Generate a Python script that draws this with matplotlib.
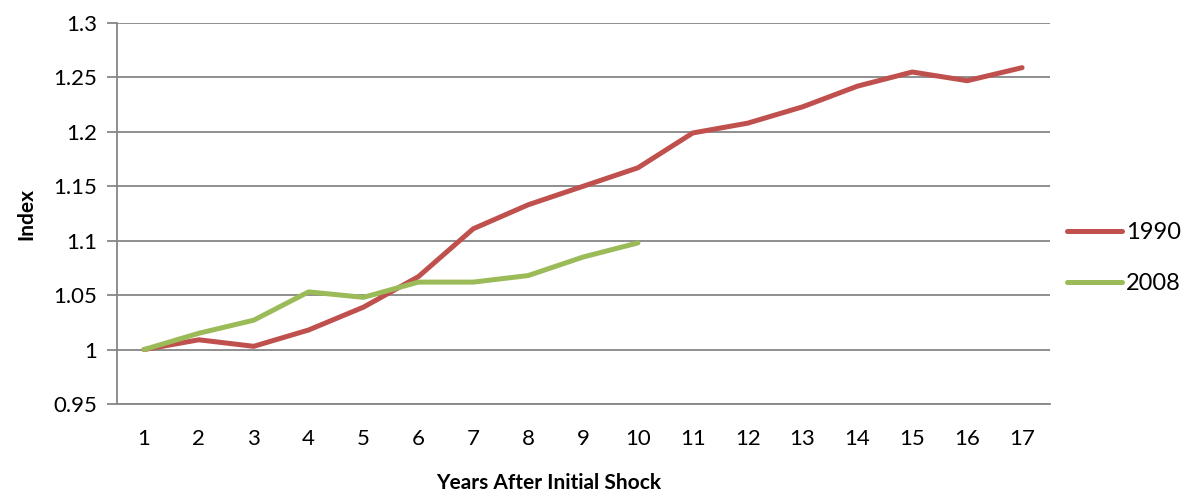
import matplotlib.pyplot as plt
from matplotlib.ticker import FixedLocator

# Index values by years after the initial shock
years = list(range(1, 18))
index_1990 = [1.000, 1.009, 1.003, 1.018, 1.039, 1.067, 1.111, 1.133, 1.150,
              1.167, 1.199, 1.208, 1.223, 1.242, 1.255, 1.247, 1.259]
years_2008 = list(range(1, 11))
index_2008 = [1.000, 1.015, 1.027, 1.053, 1.048, 1.062, 1.062, 1.068, 1.085, 1.098]
y_ticks = [0.95, 1.0, 1.05, 1.1, 1.15, 1.2, 1.25, 1.3]
y_tick_labels = ['0.95', '1', '1.05', '1.1', '1.15', '1.2', '1.25', '1.3']

plt.rcParams['font.family'] = ['Lato', 'DejaVu Sans']

fig = plt.figure(figsize=(11.89, 4.93), dpi=100)
ax = fig.add_axes([0.098, 0.1805, 0.7847, 0.7728])

grid_color = '#868686'
ax.plot(years, index_1990, color='#C0504D', lw=3.6, solid_capstyle='round',
        solid_joinstyle='round', label='1990', zorder=3)
ax.plot(years_2008, index_2008, color='#9BBB59', lw=3.6, solid_capstyle='round',
        solid_joinstyle='round', label='2008', zorder=3)

ax.set_xlim(0.5, 17.5)
ax.set_ylim(0.95, 1.3)
ax.set_xticks(years)
ax.yaxis.set_major_locator(FixedLocator(y_ticks))
ax.set_yticklabels(y_tick_labels)
ax.grid(axis='y', color=grid_color, lw=1.3)
ax.set_axisbelow(True)

for side in ['top', 'right']:
    ax.spines[side].set_visible(False)
for side in ['left', 'bottom']:
    ax.spines[side].set_color(grid_color)
    ax.spines[side].set_linewidth(1.3)

ax.tick_params(axis='y', length=7, width=1.3, color=grid_color, labelsize=16, pad=7)
ax.tick_params(axis='x', length=0, labelsize=16, pad=18)

ax.set_ylabel('Index', fontsize=15, fontweight='bold', labelpad=12)
fig.text(549 / 1189, 1 - 483 / 493, 'Years After Initial Shock', fontsize=15,
         fontweight='bold', ha='center', va='center')

ax.legend(loc='center left', bbox_to_anchor=(1.019, 0.383), frameon=False,
          borderaxespad=0, borderpad=0, fontsize=17, handlelength=2.3,
          handletextpad=0.2, labelspacing=1.25)

fig.savefig('out.png', dpi=100)
